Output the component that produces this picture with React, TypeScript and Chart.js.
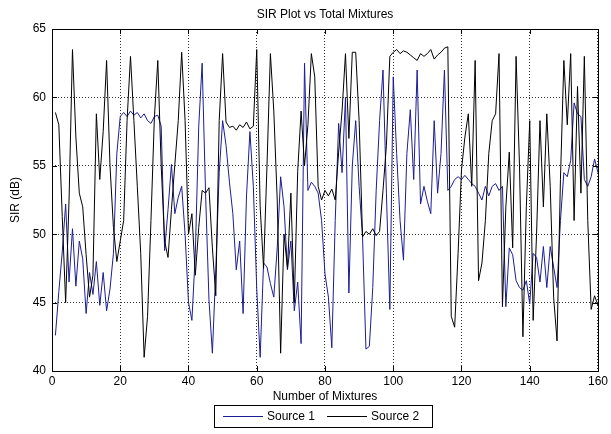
import React, { useEffect, useRef } from "react";
import { Chart, registerables } from "chart.js";

Chart.register(...registerables);

const titleText = "SIR Plot vs Total Mixtures";
const xLabel = "Number of Mixtures";
const yLabel = "SIR (dB)";
const seriesNames = ["Source 1", "Source 2"];

const mixtures = [
  1, 2, 3, 4, 5, 6, 7, 8, 9, 10, 11, 12, 13, 14, 15, 16, 17, 18, 19, 20,
  21, 22, 23, 24, 25, 26, 27, 28, 29, 30, 31, 32, 33, 34, 35, 36, 37, 38, 39, 40,
  41, 42, 43, 44, 45, 46, 47, 48, 49, 50, 51, 52, 53, 54, 55, 56, 57, 58, 59, 60,
  61, 62, 63, 64, 65, 66, 67, 68, 69, 70, 71, 72, 73, 74, 75, 76, 77, 78, 79, 80,
  81, 82, 83, 84, 85, 86, 87, 88, 89, 90, 91, 92, 93, 94, 95, 96, 97, 98, 99, 100,
  101, 102, 103, 104, 105, 106, 107, 108, 109, 110, 111, 112, 113, 114, 115, 116, 117, 118, 119, 120,
  121, 122, 123, 124, 125, 126, 127, 128, 129, 130, 131, 132, 133, 134, 135, 136, 137, 138, 139, 140,
  141, 142, 143, 144, 145, 146, 147, 148, 149, 150, 151, 152, 153, 154, 155, 156, 157, 158, 159, 160,
];

const source1 = [
  42.6, 45.8, 48.7, 52.2, 46.5, 50.4, 46.2, 49.5, 48.2, 44.2,
  47.2, 45.6, 48.0, 44.8, 47.2, 44.4, 46.0, 48.6, 55.9, 58.6,
  58.9, 58.6, 59.0, 58.7, 58.9, 58.5, 58.8, 58.3, 58.1, 58.6,
  58.7, 57.9, 48.8, 51.8, 55.1, 51.5, 52.7, 53.5, 50.0, 45.0,
  43.7, 48.6, 57.9, 62.5, 53.0, 45.2, 41.3, 47.4, 54.5, 58.3,
  56.5, 53.8, 51.5, 47.4, 49.5, 44.2, 52.8, 57.5, 53.5, 46.0,
  41.0, 47.9, 47.6, 46.4, 45.4, 49.0, 54.2, 52.0, 47.4, 49.5,
  44.4, 46.5, 42.0, 62.5, 53.2, 53.8, 53.5, 53.0, 51.0, 47.1,
  45.4, 41.7, 51.0, 58.1, 54.5, 60.0, 45.7, 55.0, 58.3, 53.5,
  49.8, 41.6, 41.8, 46.1, 53.2, 58.3, 62.0, 53.0, 44.5, 61.5,
  55.9, 51.0, 48.1, 55.9, 59.1, 54.0, 62.0, 52.2, 53.5, 52.4,
  51.5, 58.3, 53.0, 55.9, 62.0, 53.2, 53.5, 54.0, 54.2, 54.0,
  54.3, 54.0, 53.7, 53.5, 53.0, 52.5, 53.5, 52.8, 53.5, 53.7,
  53.2, 53.5, 44.7, 49.0, 48.5, 46.6, 46.1, 45.9, 46.6, 44.9,
  48.6, 48.3, 46.5, 49.1, 46.1, 49.1, 47.6, 46.1, 51.0, 54.5,
  54.2, 55.4, 59.6, 58.8, 58.6, 54.0, 53.5, 54.2, 55.5, 54.5,
];

const source2 = [
  58.9, 58.0, 51.3, 45.0, 52.5, 63.5, 57.1, 53.0, 52.0, 48.5,
  45.4, 47.0, 58.8, 54.0, 57.5, 62.7, 55.0, 50.5, 48.0, 49.5,
  51.0, 58.3, 63.0, 58.3, 53.5, 48.6, 41.0, 44.0, 51.0, 58.5,
  62.7, 55.0, 49.5, 48.3, 51.8, 55.1, 58.3, 63.3, 58.3, 50.0,
  51.5, 47.0, 50.5, 53.2, 53.0, 53.4, 49.0, 45.5, 58.3, 63.2,
  58.2, 57.8, 57.9, 57.6, 58.0, 57.8, 58.2, 57.7, 57.9, 63.5,
  52.0, 47.5, 55.0, 63.2, 59.0, 52.5, 41.3, 50.0, 47.5, 53.0,
  45.0, 54.6, 59.0, 55.0, 58.0, 63.2, 61.5, 53.5, 52.5, 53.2,
  52.8, 53.3, 52.5, 56.0, 59.0, 63.2, 57.0, 63.3, 63.3, 58.3,
  49.8, 50.2, 50.0, 50.4, 49.9, 50.2, 53.2, 56.5, 63.0, 63.3,
  63.5, 63.2, 63.4, 63.3, 63.1, 62.9, 62.7, 63.2, 63.0, 63.2,
  63.5, 62.8, 63.1, 63.3, 63.6, 63.7, 44.0, 43.2, 48.6, 54.7,
  57.1, 58.8, 53.5, 62.7, 46.6, 47.9, 51.0, 55.9, 58.3, 58.8,
  63.2, 44.7, 52.0, 56.0, 49.0, 63.0, 55.0, 42.5, 52.0, 58.3,
  43.7, 50.0, 58.3, 52.0, 58.8, 53.5, 45.4, 42.2, 54.0, 62.7,
  58.0, 63.2, 51.0, 60.8, 53.0, 63.0, 51.0, 44.5, 45.5, 44.8,
];

const xTicks = [0, 20, 40, 60, 80, 100, 120, 140, 160];
const yTicks = [40, 45, 50, 55, 60, 65];

const COLOR1 = "#1c1c96";
const COLOR2 = "#000000";
const FONT_FAMILY = '"Liberation Sans", Arial, Helvetica, sans-serif';
const FONT = `12px ${FONT_FAMILY}`;

const decorPlugin = {
  id: "decor",
  afterDraw(chart: any) {
    const { ctx, chartArea: a, scales } = chart;
    const xs = scales.x;
    const ys = scales.y;
    ctx.save();
    ctx.strokeStyle = "#000";
    ctx.lineWidth = 1;
    ctx.setLineDash([]);
    ctx.beginPath();
    for (const t of xTicks) {
      const px = Math.round(xs.getPixelForValue(t)) + 0.5;
      ctx.moveTo(px, a.bottom);
      ctx.lineTo(px, a.bottom - 5);
      ctx.moveTo(px, a.top);
      ctx.lineTo(px, a.top + 5);
    }
    for (const t of yTicks) {
      const py = Math.round(ys.getPixelForValue(t)) + 0.5;
      ctx.moveTo(a.left, py);
      ctx.lineTo(a.left + 5, py);
      ctx.moveTo(a.right, py);
      ctx.lineTo(a.right - 5, py);
    }
    ctx.stroke();
    ctx.strokeRect(
      Math.round(a.left) + 0.5,
      Math.round(a.top) + 0.5,
      Math.round(a.right - a.left),
      Math.round(a.bottom - a.top)
    );

    ctx.fillStyle = "#000";
    ctx.font = FONT;
    ctx.textAlign = "center";
    ctx.textBaseline = "middle";
    const cx = (a.left + a.right) / 2;
    ctx.fillText(titleText, cx, 15);
    ctx.fillText(xLabel, cx, 397);
    ctx.save();
    ctx.translate(16, (a.top + a.bottom) / 2);
    ctx.rotate(-Math.PI / 2);
    ctx.fillText(yLabel, 0, 0);
    ctx.restore();

    // legend
    const boxL = 214;
    const boxR = 432;
    const boxT = 405;
    const boxB = 427;
    ctx.fillStyle = "#fff";
    ctx.fillRect(boxL, boxT, boxR - boxL, boxB - boxT);
    ctx.strokeStyle = "#000";
    ctx.strokeRect(boxL + 0.5, boxT + 0.5, boxR - boxL, boxB - boxT);
    const midY = Math.round((boxT + boxB) / 2) + 0.5;
    const items = chart.data.datasets;
    let x = boxL + 9;
    ctx.textAlign = "left";
    ctx.fillStyle = "#000";
    for (let i = 0; i < items.length; i++) {
      ctx.strokeStyle = items[i].borderColor;
      ctx.beginPath();
      ctx.moveTo(x, midY);
      ctx.lineTo(x + 40, midY);
      ctx.stroke();
      x += 44;
      ctx.fillText(items[i].label, x, midY);
      x += ctx.measureText(items[i].label).width + 12;
    }
    ctx.restore();
  },
};

export default function App() {
  const canvasRef = useRef<HTMLCanvasElement | null>(null);

  useEffect(() => {
    document.body.style.margin = "0";
    const canvas = canvasRef.current;
    if (!canvas) return;
    const chart = new Chart(canvas, {
      type: "line",
      data: {
        datasets: [
          {
            label: seriesNames[0],
            data: mixtures.map((m, i) => ({ x: m, y: source1[i] })),
            borderColor: COLOR1,
            backgroundColor: COLOR1,
            borderWidth: 1,
            pointRadius: 0,
            tension: 0,
            order: 1,
          },
          {
            label: seriesNames[1],
            data: mixtures.map((m, i) => ({ x: m, y: source2[i] })),
            borderColor: COLOR2,
            backgroundColor: COLOR2,
            borderWidth: 1,
            pointRadius: 0,
            tension: 0,
            order: 0,
          },
        ],
      },
      options: {
        animation: false,
        responsive: false,
        maintainAspectRatio: false,
        devicePixelRatio: 1,
        layout: { padding: { left: 0, top: 29, right: 11, bottom: 0 } },
        plugins: {
          legend: { display: false },
          title: { display: false },
          tooltip: { enabled: false },
        },
        scales: {
          x: {
            type: "linear",
            min: 0,
            max: 160,
            afterBuildTicks: (scale: any) => {
              scale.ticks = xTicks.map((v) => ({ value: v }));
            },
            afterFit: (scale: any) => {
              scale.height = 63;
            },
            ticks: {
              color: "#000",
              font: { family: FONT_FAMILY, size: 12 },
              padding: 3,
              maxRotation: 0,
              autoSkip: false,
            },
            grid: {
              color: "#333",
              lineWidth: 1,
              drawTicks: false,
            },
            border: { display: false, dash: [1, 2] },
          },
          y: {
            type: "linear",
            min: 40,
            max: 65,
            afterBuildTicks: (scale: any) => {
              scale.ticks = yTicks.map((v) => ({ value: v }));
            },
            afterFit: (scale: any) => {
              scale.width = 52;
            },
            ticks: {
              color: "#000",
              font: { family: FONT_FAMILY, size: 12 },
              padding: 6,
              autoSkip: false,
            },
            grid: {
              color: "#333",
              lineWidth: 1,
              drawTicks: false,
            },
            border: { display: false, dash: [1, 2] },
          },
        },
      },
      plugins: [decorPlugin],
    } as any);
    return () => chart.destroy();
  }, []);

  return (
    <div style={{ position: "fixed", left: 0, top: 0, width: 611, height: 434, background: "#fff" }}>
      <canvas ref={canvasRef} width={611} height={434} style={{ width: 611, height: 434, display: "block" }} />
    </div>
  );
}
